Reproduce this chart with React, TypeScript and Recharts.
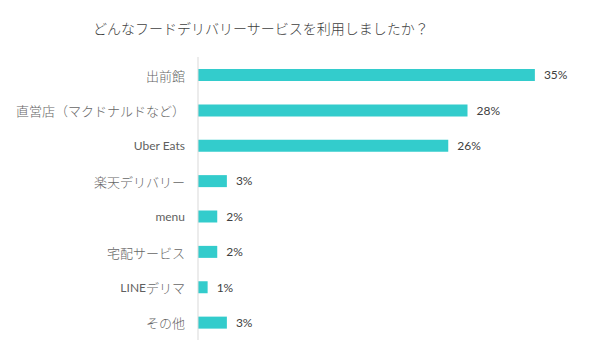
import React from 'react';
import { BarChart, Bar, XAxis, YAxis, LabelList } from 'recharts';

const categories = [
  '出前館',
  '直営店（マクドナルドなど）',
  'Uber Eats',
  '楽天デリバリー',
  'menu',
  '宅配サービス',
  'LINEデリマ',
  'その他',
];
const shares = [35, 28, 26, 3, 2, 2, 1, 3];
const title = 'どんなフードデリバリーサービスを利用しましたか？';

const data = categories.map((name, i) => ({ name, value: shares[i] }));

const LATIN = "Lato, sans-serif";
const CJK = "'Noto Sans CJK JP', sans-serif";

function splitRuns(s: string) {
  const runs: { text: string; latin: boolean }[] = [];
  for (const ch of s) {
    const latin = ch.charCodeAt(0) < 0x2000;
    const last = runs[runs.length - 1];
    if (last && last.latin === latin) last.text += ch;
    else runs.push({ text: ch, latin });
  }
  return runs;
}

function CategoryTick(props: any) {
  const { x, y, payload } = props;
  const runs = splitRuns(String(payload.value));
  return (
    <text x={x} y={y} textAnchor="end" dominantBaseline="central" fill="#595959">
      {runs.map((r, i) => (
        <tspan
          key={i}
          fontFamily={r.latin ? LATIN : CJK}
          fontSize={r.latin ? 12 : 13}
          fontWeight={r.latin ? 400 : 300}
          fill={r.latin ? '#5f5f5f' : '#666666'}
        >
          {r.text}
        </tspan>
      ))}
    </text>
  );
}

export default function App() {
  return (
    <div style={{ position: 'absolute', left: 0, top: 0, width: 600, height: 357, background: '#fff' }}>
      <div
        style={{
          position: 'absolute',
          left: 93,
          top: 18,
          whiteSpace: 'nowrap',
          fontFamily: CJK,
          fontWeight: 300,
          fontSize: 14,
          color: '#404040',
          lineHeight: '20px',
        }}
      >
        {title}
      </div>
      <BarChart
        width={600}
        height={357}
        data={data}
        layout="vertical"
        margin={{ top: 57, right: 17, bottom: 17, left: 0 }}
        barCategoryGap={0}
      >
        <XAxis type="number" domain={[0, 40]} hide />
        <YAxis
          type="category"
          dataKey="name"
          width={198}
          tickLine={false}
          tickSize={0}
          tickMargin={13}
          axisLine={{ stroke: '#d9d9d9' }}
          interval={0}
          tick={<CategoryTick />}
        />
        <Bar dataKey="value" fill="#33CCCC" barSize={12} isAnimationActive={false}>
          <LabelList
            dataKey="value"
            position="right"
            offset={9}
            formatter={(v: number) => `${v}%`}
            style={{ fill: '#404040', fontSize: 12, fontFamily: LATIN }}
          />
        </Bar>
      </BarChart>
    </div>
  );
}
